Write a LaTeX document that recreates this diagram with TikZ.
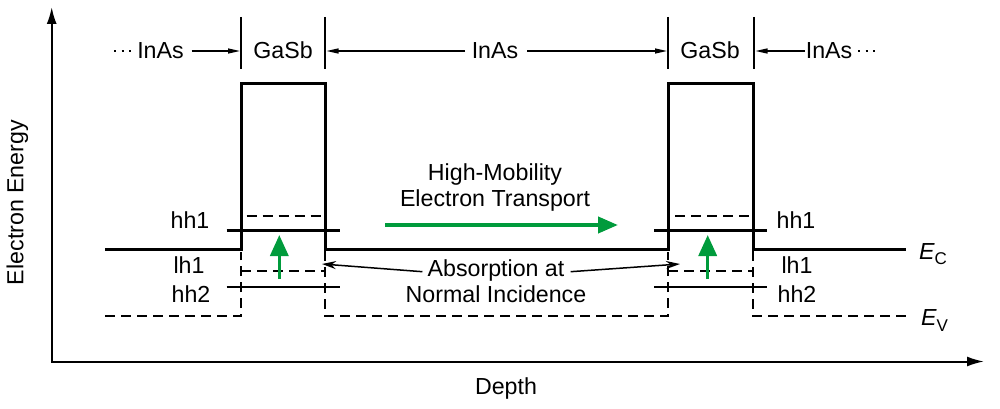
\documentclass[tikz,border=0pt]{standalone}
\usepackage{fontspec}
\setmainfont{Liberation Sans}
\usetikzlibrary{arrows.meta}
\definecolor{grn}{RGB}{0,155,60}
\begin{document}
\begin{tikzpicture}[x=1pt,y=-1pt,
  font=\fontsize{23.2}{26}\selectfont,
  lbl/.style={inner sep=0pt,anchor=base},
  band/.style={line width=3pt,line join=miter},
  level/.style={line width=2.3pt},
  dlevel/.style={line width=2pt,dash pattern=on 10pt off 6pt},
  axisline/.style={line width=2pt,{Latex[length=17pt,width=10pt]}-{Latex[length=17pt,width=10pt]}},
  tickline/.style={line width=1.3pt},
  toparrow/.style={line width=1.3pt,-{Triangle[length=12pt,width=5pt]}},
  absarrow/.style={line width=1.5pt,-{Stealth[length=14pt,width=8pt]}},
  garrow/.style={grn,line width=4pt,-{Triangle[length=20pt,width=16pt]}},
  gvarrow/.style={grn,line width=3.5pt,-{Triangle[length=21pt,width=18pt]}}
]
\useasboundingbox (0,0) rectangle (1000,409);

% axes
\coordinate (ytip) at (51.7,7);
\coordinate (origin) at (51.7,361.5);
\coordinate (xtip) at (984,361.5);
\draw[axisline] (ytip) -- (origin) -- (xtip);
\node[lbl,rotate=90] (ylab) at (23.3,202.5) {Electron Energy};
\node[lbl] (xlab) at (506,394) {Depth};

% top labels
\node[lbl] (inas1) at (160.5,58.5) {InAs};
\node[lbl] (gasb1) at (283,58.5) {GaSb};
\node[lbl] (inas2) at (495,58.5) {InAs};
\node[lbl] (gasb2) at (710,58.5) {GaSb};
\node[lbl] (inas3) at (829,58.5) {InAs};
\draw[tickline] (241,17) -- (241,69);
\draw[tickline] (325,17) -- (325,69);
\draw[tickline] (668,17) -- (668,69);
\draw[tickline] (754,17) -- (754,69);
\coordinate (a1s) at (191.7,51); \coordinate (a1e) at (240,51);
\coordinate (a2s) at (465,51);   \coordinate (a2e) at (326.5,51);
\coordinate (a3s) at (527,51);   \coordinate (a3e) at (667,51);
\coordinate (a4s) at (805,51);   \coordinate (a4e) at (755.5,51);
\draw[toparrow] (a1s) -- (a1e);
\draw[toparrow] (a2s) -- (a2e);
\draw[toparrow] (a3s) -- (a3e);
\draw[toparrow] (a4s) -- (a4e);
\draw[line width=1.3pt,dash pattern=on 2pt off 5.6pt] (114,51) -- (135,51);
\draw[line width=1.3pt,dash pattern=on 2pt off 5.6pt] (858,51) -- (879,51);

% conduction band edge
\draw[band] (105,249.5) -- (241,249.5) -- (241,84) -- (325,84) -- (325,249.5)
  -- (668,249.5) -- (668,84) -- (753,84) -- (753,249.5) -- (906,249.5);

% valence band (dashed)
\draw[dlevel] (105,316) -- (241,316) -- (241,252);
\draw[dlevel] (325,251) -- (325,316) -- (668,316) -- (668,252);
\draw[dlevel] (753,251) -- (753,316) -- (906,316);

% levels
\draw[level] (226.7,230.5) -- (340,230.5);
\draw[level] (654,230.5) -- (767,230.5);
\draw[level] (226.7,287.3) -- (340,287.3);
\draw[level] (654,287.3) -- (767,287.3);
\draw[dlevel] (246.7,215.7) -- (321.7,215.7);
\draw[dlevel] (675,215.7) -- (749,215.7);
\draw[dlevel] (241,271) -- (325,271);
\draw[dlevel] (668,271) -- (753,271);

% level labels
\node[lbl] (hh1L) at (190,228) {hh1};
\node[lbl] (lh1L) at (189,273) {lh1};
\node[lbl] (hh2L) at (191,302) {hh2};
\node[lbl] (hh1R) at (796,228) {hh1};
\node[lbl] (lh1R) at (797,273) {lh1};
\node[lbl] (hh2R) at (797,302) {hh2};
\node[lbl,anchor=base west] (EC) at (919,259) {\itshape E\upshape\raisebox{-5.5pt}{\fontsize{17}{17}\selectfont C}};
\node[lbl,anchor=base west] (EV) at (921,325) {\itshape E\upshape\raisebox{-6.5pt}{\fontsize{17}{17}\selectfont V}};

% green arrows
\coordinate (g1s) at (279.3,279); \coordinate (g1e) at (279.3,235);
\coordinate (g2s) at (707.7,279); \coordinate (g2e) at (707.7,235);
\coordinate (ghs) at (385,225);   \coordinate (ghe) at (618,225);
\draw[gvarrow] (g1s) -- (g1e);
\draw[gvarrow] (g2s) -- (g2e);
\draw[garrow] (ghs) -- (ghe);

% middle texts
\node[lbl] (hm) at (495,180.7) {High-Mobility};
\node[lbl] (et) at (495,206) {Electron Transport};
\node[lbl] (abs) at (496,276.7) {Absorption at};
\node[lbl] (ni) at (496,302.7) {Normal Incidence};
\coordinate (ab1e) at (322,264);
\coordinate (ab2e) at (680,264);
\draw[absarrow] (abs.west) ++(-5pt,-1pt) coordinate (ab1s) -- (ab1e);
\draw[absarrow] (abs.east) ++(6pt,-1pt) coordinate (ab2s) -- (ab2e);
\end{tikzpicture}
\end{document}
